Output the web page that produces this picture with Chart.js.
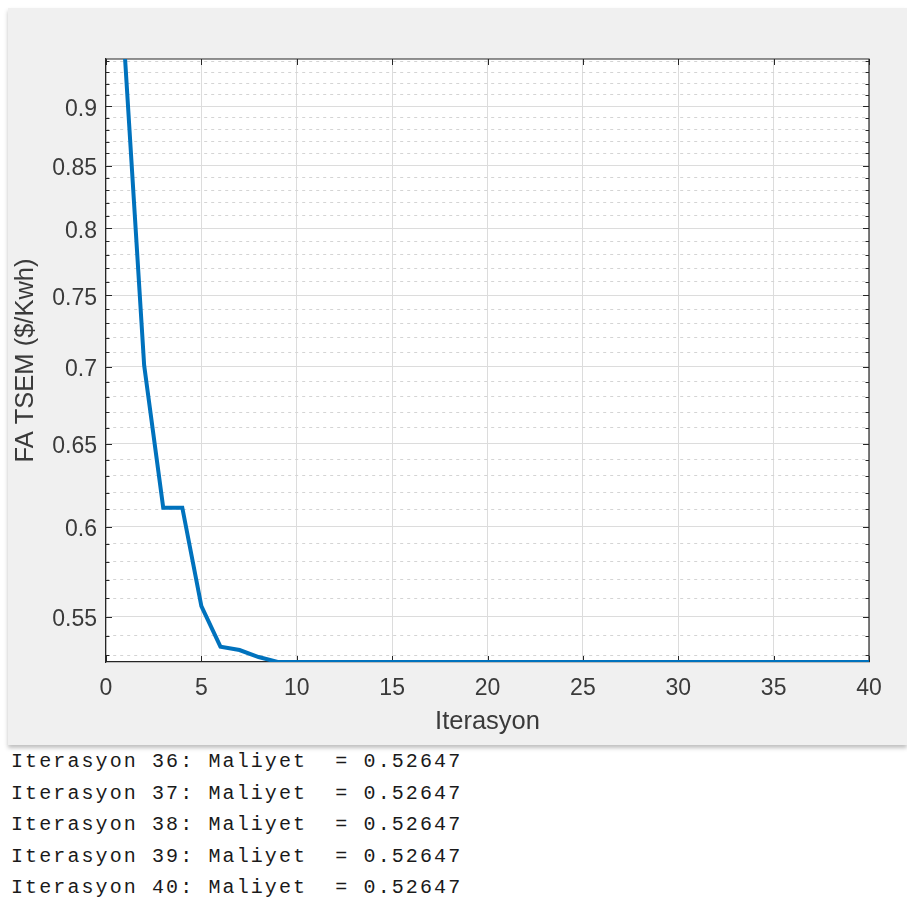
<!DOCTYPE html>
<html>
<head>
<meta charset="utf-8">
<script src="https://cdn.jsdelivr.net/npm/chart.js@4"></script>
<style>
  html, body { margin: 0; padding: 0; background: #ffffff; }
  #page { position: relative; width: 907px; height: 902px; overflow: hidden; }
  #figure {
    position: absolute; left: 8px; top: 8px; width: 899px; height: 737px;
    background: #f0f0f0;
    box-shadow: 0 3px 4px rgba(0, 0, 0, 0.25);
  }
  #plot { position: absolute; left: 0; top: 0; }
  #console {
    position: absolute; left: 11px; top: 746px;
    font-family: "Liberation Mono", "Courier New", monospace;
    font-size: 20px; letter-spacing: 2.1px; line-height: 31.6px;
    color: #1a1a1a; white-space: pre;
  }
</style>
</head>
<body>
<div id="page">
  <div id="figure"></div>
  <canvas id="plot" width="907" height="745"></canvas>
  <div id="console"></div>
</div>
<script>
// iteration number and best cost per iteration
const iterations = [1, 2, 3, 4, 5, 6, 7, 8, 9, 10,
  11, 12, 13, 14, 15, 16, 17, 18, 19, 20,
  21, 22, 23, 24, 25, 26, 27, 28, 29, 30,
  31, 32, 33, 34, 35, 36, 37, 38, 39, 40];
const cost = [0.9421, 0.701, 0.611, 0.611, 0.5557, 0.5343, 0.5326, 0.5290, 0.52647, 0.52647,
  0.52647, 0.52647, 0.52647, 0.52647, 0.52647, 0.52647, 0.52647, 0.52647, 0.52647, 0.52647,
  0.52647, 0.52647, 0.52647, 0.52647, 0.52647, 0.52647, 0.52647, 0.52647, 0.52647, 0.52647,
  0.52647, 0.52647, 0.52647, 0.52647, 0.52647, 0.52647, 0.52647, 0.52647, 0.52647, 0.52647];

// axis ticks
const xTicks = [0, 5, 10, 15, 20, 25, 30, 35, 40];
const yMajorTicks = [0.55, 0.6, 0.65, 0.7, 0.75, 0.8, 0.85, 0.9];
const yMinorTicks = [0.53, 0.54, 0.56, 0.57, 0.58, 0.59, 0.61, 0.62, 0.63, 0.64,
  0.66, 0.67, 0.68, 0.69, 0.71, 0.72, 0.73, 0.74, 0.76, 0.77, 0.78, 0.79,
  0.81, 0.82, 0.83, 0.84, 0.86, 0.87, 0.88, 0.89, 0.91, 0.92, 0.93, 0.94];

// console lines under the figure
const consoleIters = [36, 37, 38, 39, 40];
const consoleCost = ['0.52647', '0.52647', '0.52647', '0.52647', '0.52647'];

document.getElementById('console').textContent = consoleIters
  .map((it, i) => 'Iterasyon ' + it + ': Maliyet  = ' + consoleCost[i])
  .join('\n');

const axisColor = '#262626';
const labelColor = '#3a3a3a';
const gridColor = '#dcdcdc';
const minorGridColor = '#d4d4d4';

function isMajor(v) {
  return yMajorTicks.some(m => Math.abs(m - v) < 1e-6);
}

// white plot area, top/right box and inward tick marks like MATLAB
const matlabAxes = {
  id: 'matlabAxes',
  beforeDraw(chart) {
    const a = chart.chartArea;
    const ctx = chart.ctx;
    ctx.save();
    ctx.fillStyle = '#ffffff';
    ctx.fillRect(a.left, a.top, a.right - a.left, a.bottom - a.top);
    ctx.restore();
  },
  beforeDatasetsDraw(chart) {
    const a = chart.chartArea;
    const ctx = chart.ctx;
    const xs = chart.scales.x;
    const ys = chart.scales.y;
    ctx.save();
    ctx.strokeStyle = axisColor;
    ctx.lineWidth = 1.2;
    ctx.beginPath();
    ctx.moveTo(a.left, a.top);
    ctx.lineTo(a.right, a.top);
    ctx.lineTo(a.right, a.bottom);
    ctx.stroke();

    ctx.lineWidth = 1;
    ctx.beginPath();
    xTicks.forEach(t => {
      const px = Math.round(xs.getPixelForValue(t)) + 0.5;
      ctx.moveTo(px, a.bottom); ctx.lineTo(px, a.bottom - 6);
      ctx.moveTo(px, a.top); ctx.lineTo(px, a.top + 6);
    });
    yMajorTicks.forEach(t => {
      const py = Math.round(ys.getPixelForValue(t)) + 0.5;
      ctx.moveTo(a.left, py); ctx.lineTo(a.left + 6, py);
      ctx.moveTo(a.right, py); ctx.lineTo(a.right - 6, py);
    });
    yMinorTicks.forEach(t => {
      const py = Math.round(ys.getPixelForValue(t)) + 0.5;
      ctx.moveTo(a.left, py); ctx.lineTo(a.left + 3.5, py);
      ctx.moveTo(a.right, py); ctx.lineTo(a.right - 3.5, py);
    });
    ctx.stroke();
    ctx.restore();
  }
};

new Chart(document.getElementById('plot'), {
  type: 'line',
  data: {
    datasets: [{
      data: iterations.map((it, i) => ({ x: it, y: cost[i] })),
      borderColor: '#0072BD',
      borderWidth: 4,
      pointRadius: 0,
      tension: 0,
      fill: false
    }]
  },
  options: {
    responsive: false,
    animation: false,
    devicePixelRatio: 1,
    layout: { padding: { left: 0, top: 59, right: 38, bottom: 0 } },
    plugins: {
      legend: { display: false },
      tooltip: { enabled: false }
    },
    scales: {
      x: {
        type: 'linear',
        min: 0,
        max: 40,
        afterFit: s => { s.height = 83; },
        afterBuildTicks: s => { s.ticks = xTicks.map(v => ({ value: v })); },
        ticks: {
          autoSkip: false,
          padding: 13,
          color: labelColor,
          font: { family: '"Liberation Sans", Arial, sans-serif', size: 23 }
        },
        grid: { color: gridColor, lineWidth: 1, drawTicks: false },
        border: { display: true, color: axisColor, width: 1.2 },
        title: {
          display: true,
          text: 'Iterasyon',
          color: labelColor,
          padding: { top: 0, bottom: 8 },
          font: { family: '"Liberation Sans", Arial, sans-serif', size: 25.5 }
        }
      },
      y: {
        type: 'logarithmic',
        min: 0.52647,
        max: 0.9421,
        afterFit: s => { s.width = 106; },
        afterBuildTicks: s => {
          s.ticks = yMajorTicks.concat(yMinorTicks)
            .sort((p, q) => p - q)
            .map(v => ({ value: v }));
        },
        ticks: {
          autoSkip: false,
          padding: 9,
          labelOffset: 3,
          color: labelColor,
          font: { family: '"Liberation Sans", Arial, sans-serif', size: 23 },
          callback: v => (isMajor(v) ? String(Number(v.toFixed(2))) : '')
        },
        grid: {
          drawTicks: false,
          lineWidth: 1,
          color: c => (c.tick && !isMajor(c.tick.value) ? minorGridColor : gridColor)
        },
        border: {
          display: true,
          color: axisColor,
          width: 1.2,
          dash: c => (c.tick && !isMajor(c.tick.value) ? [3, 4] : [])
        },
        title: {
          display: true,
          text: 'FA TSEM ($/Kwh)',
          color: labelColor,
          padding: { top: 11, bottom: 0 },
          font: { family: '"Liberation Sans", Arial, sans-serif', size: 25.5 }
        }
      }
    }
  },
  plugins: [matlabAxes]
});
</script>
</body>
</html>
